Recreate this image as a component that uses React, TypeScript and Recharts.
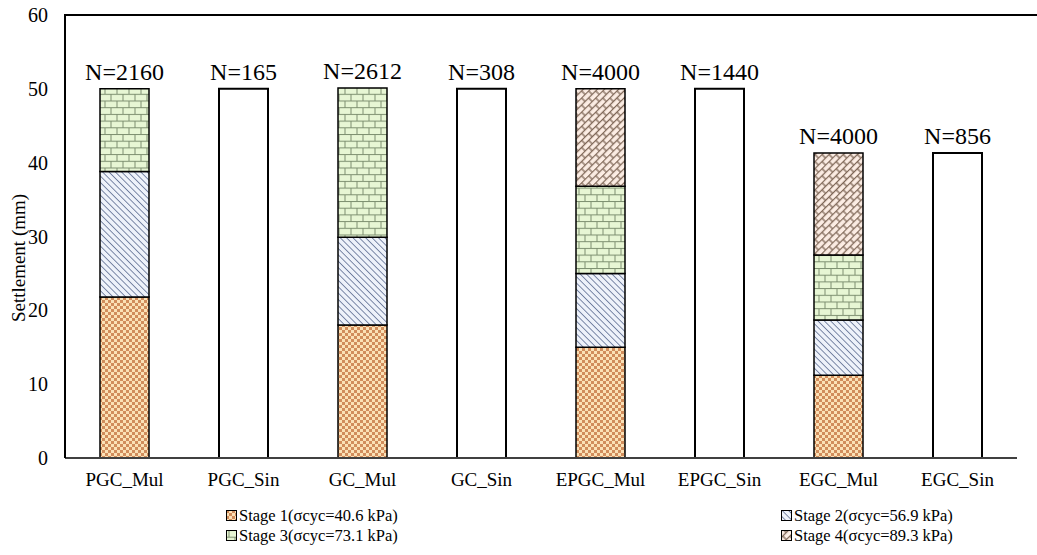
import { Bar, BarChart, LabelList, XAxis, YAxis } from "recharts";

const categories = ["PGC_Mul", "PGC_Sin", "GC_Mul", "GC_Sin", "EPGC_Mul", "EPGC_Sin", "EGC_Mul", "EGC_Sin"];
const stage1 = [21.8, 0, 18.0, 0, 15.0, 0, 11.2, 0];
const stage2 = [17.0, 0, 11.9, 0, 10.0, 0, 7.5, 0];
const stage3 = [11.2, 0, 20.2, 0, 11.8, 0, 8.8, 0];
const stage4 = [0, 0, 0, 0, 13.2, 0, 13.8, 0];
const single = [0, 50, 0, 50, 0, 50, 0, 41.3];
const cycles = ["N=2160", "N=165", "N=2612", "N=308", "N=4000", "N=1440", "N=4000", "N=856"];
const yTicks = [0, 10, 20, 30, 40, 50, 60];

const legendItems = [
  { key: "s1", name: "Stage 1(σcyc=40.6 kPa)", fill: "url(#checker)" },
  { key: "s2", name: "Stage 2(σcyc=56.9 kPa)", fill: "url(#diag)" },
  { key: "s3", name: "Stage 3(σcyc=73.1 kPa)", fill: "url(#brick)" },
  { key: "s4", name: "Stage 4(σcyc=89.3 kPa)", fill: "url(#trellis)" },
];

const seriesKeys = ["s1", "s2", "s3", "s4", "sin"];

const data = categories.map((name, i) => {
  const row: Record<string, any> = {
    name,
    s1: stage1[i] || null,
    s2: stage2[i] || null,
    s3: stage3[i] || null,
    s4: stage4[i] || null,
    sin: single[i] || null,
  };
  // the N label goes on whichever segment is on top of the stack
  let top = "";
  seriesKeys.forEach((k) => {
    if (row[k]) top = k;
  });
  seriesKeys.forEach((k) => {
    row["lbl_" + k] = k === top ? cycles[i] : "";
  });
  return row;
});

const FONT = "'Liberation Serif', 'Times New Roman', serif";

const renderTopLabel = (props: any) => {
  const { x, y, width, value } = props;
  if (!value) return null;
  return (
    <text
      x={x + width / 2}
      y={y - 9}
      textAnchor="middle"
      fontSize={24}
      fill="#000"
      stroke="none"
      fontFamily={FONT}
    >
      {value}
    </text>
  );
};

function Patterns() {
  return (
    <defs>
      <pattern id="checker" patternUnits="userSpaceOnUse" width={6} height={6}>
        <rect width={6} height={6} fill="#fbe1b6" />
        <rect width={3} height={3} fill="#d18d5c" />
        <rect x={3} y={3} width={3} height={3} fill="#d18d5c" />
      </pattern>
      <pattern id="diag" patternUnits="userSpaceOnUse" width={4.5} height={4.5} patternTransform="rotate(-45)">
        <rect width={4.5} height={4.5} fill="#eef2fa" />
        <line x1={0} y1={0} x2={0} y2={4.5} stroke="#6f7d9e" strokeWidth={1.8} />
      </pattern>
      <pattern id="brick" patternUnits="userSpaceOnUse" width={12} height={13.4}>
        <rect width={12} height={13.4} fill="#e7f6d4" />
        <line x1={0} y1={0.5} x2={12} y2={0.5} stroke="#7d8f70" strokeWidth={1} />
        <line x1={0} y1={7.2} x2={12} y2={7.2} stroke="#7d8f70" strokeWidth={1} />
        <line x1={3} y1={0} x2={3} y2={6.7} stroke="#7d8f70" strokeWidth={1} />
        <line x1={9} y1={6.7} x2={9} y2={13.4} stroke="#7d8f70" strokeWidth={1} />
      </pattern>
      <pattern id="trellis" patternUnits="userSpaceOnUse" width={10} height={10} patternTransform="rotate(-45)">
        <rect width={10} height={10} fill="#fcede4" />
        <line x1={0} y1={0.5} x2={10} y2={0.5} stroke="#7e6656" strokeWidth={1.3} />
        <line x1={0} y1={5.5} x2={10} y2={5.5} stroke="#7e6656" strokeWidth={1.3} />
        <line x1={2} y1={0} x2={2} y2={5} stroke="#7e6656" strokeWidth={1.3} />
        <line x1={7} y1={5} x2={7} y2={10} stroke="#7e6656" strokeWidth={1.3} />
      </pattern>
    </defs>
  );
}

export default function App() {
  return (
    <div style={{ position: "absolute", left: 0, top: 0, width: 1037, height: 555, background: "#fff", fontFamily: FONT }}>
      <BarChart
        width={1037}
        height={555}
        data={data}
        barSize={49}
        margin={{ top: 15, right: 20, left: 0, bottom: 67 }}
      >
        <Patterns />
        <XAxis
          dataKey="name"
          tickLine={false}
          axisLine={{ stroke: "#404040", strokeWidth: 2 }}
          tick={{ fontSize: 19, fill: "#000", fontFamily: FONT }}
          tickMargin={9}
          height={30}
          interval={0}
        />
        <YAxis
          domain={[0, 60]}
          ticks={yTicks}
          width={65}
          tickLine={false}
          tickSize={0}
          tickMargin={17}
          axisLine={{ stroke: "#000", strokeWidth: 2 }}
          tick={{ fontSize: 20, fill: "#000", fontFamily: FONT }}
          label={{
            content: () => (
              <text
                x={25}
                y={258}
                transform="rotate(-90 25 258)"
                textAnchor="middle"
                fontSize={19}
                fill="#000"
                stroke="none"
                fontFamily={FONT}
              >
                Settlement (mm)
              </text>
            ),
          }}
        />
        <Bar dataKey="s1" stackId="a" fill="url(#checker)" stroke="#000" strokeWidth={1.5} isAnimationActive={false}>
          <LabelList dataKey="lbl_s1" content={renderTopLabel} />
        </Bar>
        <Bar dataKey="s2" stackId="a" fill="url(#diag)" stroke="#000" strokeWidth={1.5} isAnimationActive={false}>
          <LabelList dataKey="lbl_s2" content={renderTopLabel} />
        </Bar>
        <Bar dataKey="s3" stackId="a" fill="url(#brick)" stroke="#000" strokeWidth={1.5} isAnimationActive={false}>
          <LabelList dataKey="lbl_s3" content={renderTopLabel} />
        </Bar>
        <Bar dataKey="s4" stackId="a" fill="url(#trellis)" stroke="#000" strokeWidth={1.5} isAnimationActive={false}>
          <LabelList dataKey="lbl_s4" content={renderTopLabel} />
        </Bar>
        <Bar dataKey="sin" stackId="a" fill="#fff" stroke="#000" strokeWidth={2} isAnimationActive={false}>
          <LabelList dataKey="lbl_sin" content={renderTopLabel} />
        </Bar>
      </BarChart>
      <div style={{ position: "absolute", left: 64, top: 14, width: 973, height: 2, background: "#000" }} />
      <div
        style={{
          position: "absolute",
          left: 226,
          top: 506,
          display: "grid",
          gridTemplateColumns: "555px 260px",
          rowGap: 1,
          fontSize: 16.5,
          lineHeight: "19px",
          color: "#000",
        }}
      >
        {legendItems.map((it) => (
          <div key={it.key} style={{ display: "flex", alignItems: "center" }}>
            <svg width={11} height={11} style={{ marginRight: 2 }}>
              <rect x={0.5} y={0.5} width={10} height={10} fill={it.fill} stroke="#000" strokeWidth={1} />
            </svg>
            <span>{it.name}</span>
          </div>
        ))}
      </div>
    </div>
  );
}
